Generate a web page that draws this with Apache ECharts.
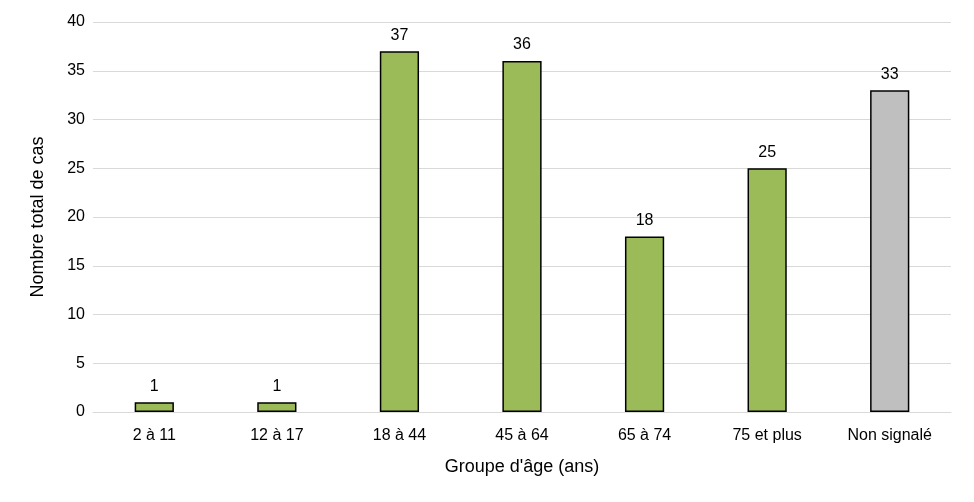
<!DOCTYPE html>
<html>
<head>
<meta charset="utf-8">
<script src="https://cdn.jsdelivr.net/npm/echarts@6/dist/echarts.min.js"></script>
<style>
html,body{margin:0;padding:0;background:#fff;}
#chart{width:974px;height:502px;}
</style>
</head>
<body>
<div id="chart"></div>
<script>
var categories = ['2 à 11', '12 à 17', '18 à 44', '45 à 64', '65 à 74', '75 et plus', 'Non signalé'];
var cases = [1, 1, 37, 36, 18, 25, 33];
var barColors = ['#9BBB59', '#9BBB59', '#9BBB59', '#9BBB59', '#9BBB59', '#9BBB59', '#BFBFBF'];

var chart = echarts.init(document.getElementById('chart'));
chart.setOption({
    animation: false,
    textStyle: {fontFamily: 'Liberation Sans, Arial, sans-serif'},
    grid: {left: 93, right: 23, top: 22, bottom: 90},
    xAxis: {
        type: 'category',
        data: categories,
        name: "Groupe d'âge (ans)",
        nameLocation: 'middle',
        nameGap: 46,
        nameTextStyle: {fontSize: 18, color: '#000'},
        axisLine: {lineStyle: {color: '#D9D9D9', width: 1}},
        axisTick: {show: false},
        axisLabel: {fontSize: 16, color: '#000', margin: 16}
    },
    yAxis: {
        type: 'value',
        min: 0,
        max: 40,
        interval: 5,
        name: 'Nombre total de cas',
        nameLocation: 'middle',
        nameGap: 46,
        nameTextStyle: {fontSize: 18, color: '#000'},
        axisLine: {show: false},
        axisTick: {show: false},
        axisLabel: {fontSize: 16, color: '#000', margin: 8},
        splitLine: {lineStyle: {color: '#D9D9D9', width: 1}}
    },
    series: [{
        type: 'bar',
        barWidth: '32%',
        data: cases.map(function (v, i) {
            return {value: v, itemStyle: {color: barColors[i]}};
        }),
        itemStyle: {borderColor: '#000', borderWidth: 1.5},
        label: {show: true, position: 'top', distance: 8, fontSize: 16, color: '#000'}
    }]
});
</script>
</body>
</html>
